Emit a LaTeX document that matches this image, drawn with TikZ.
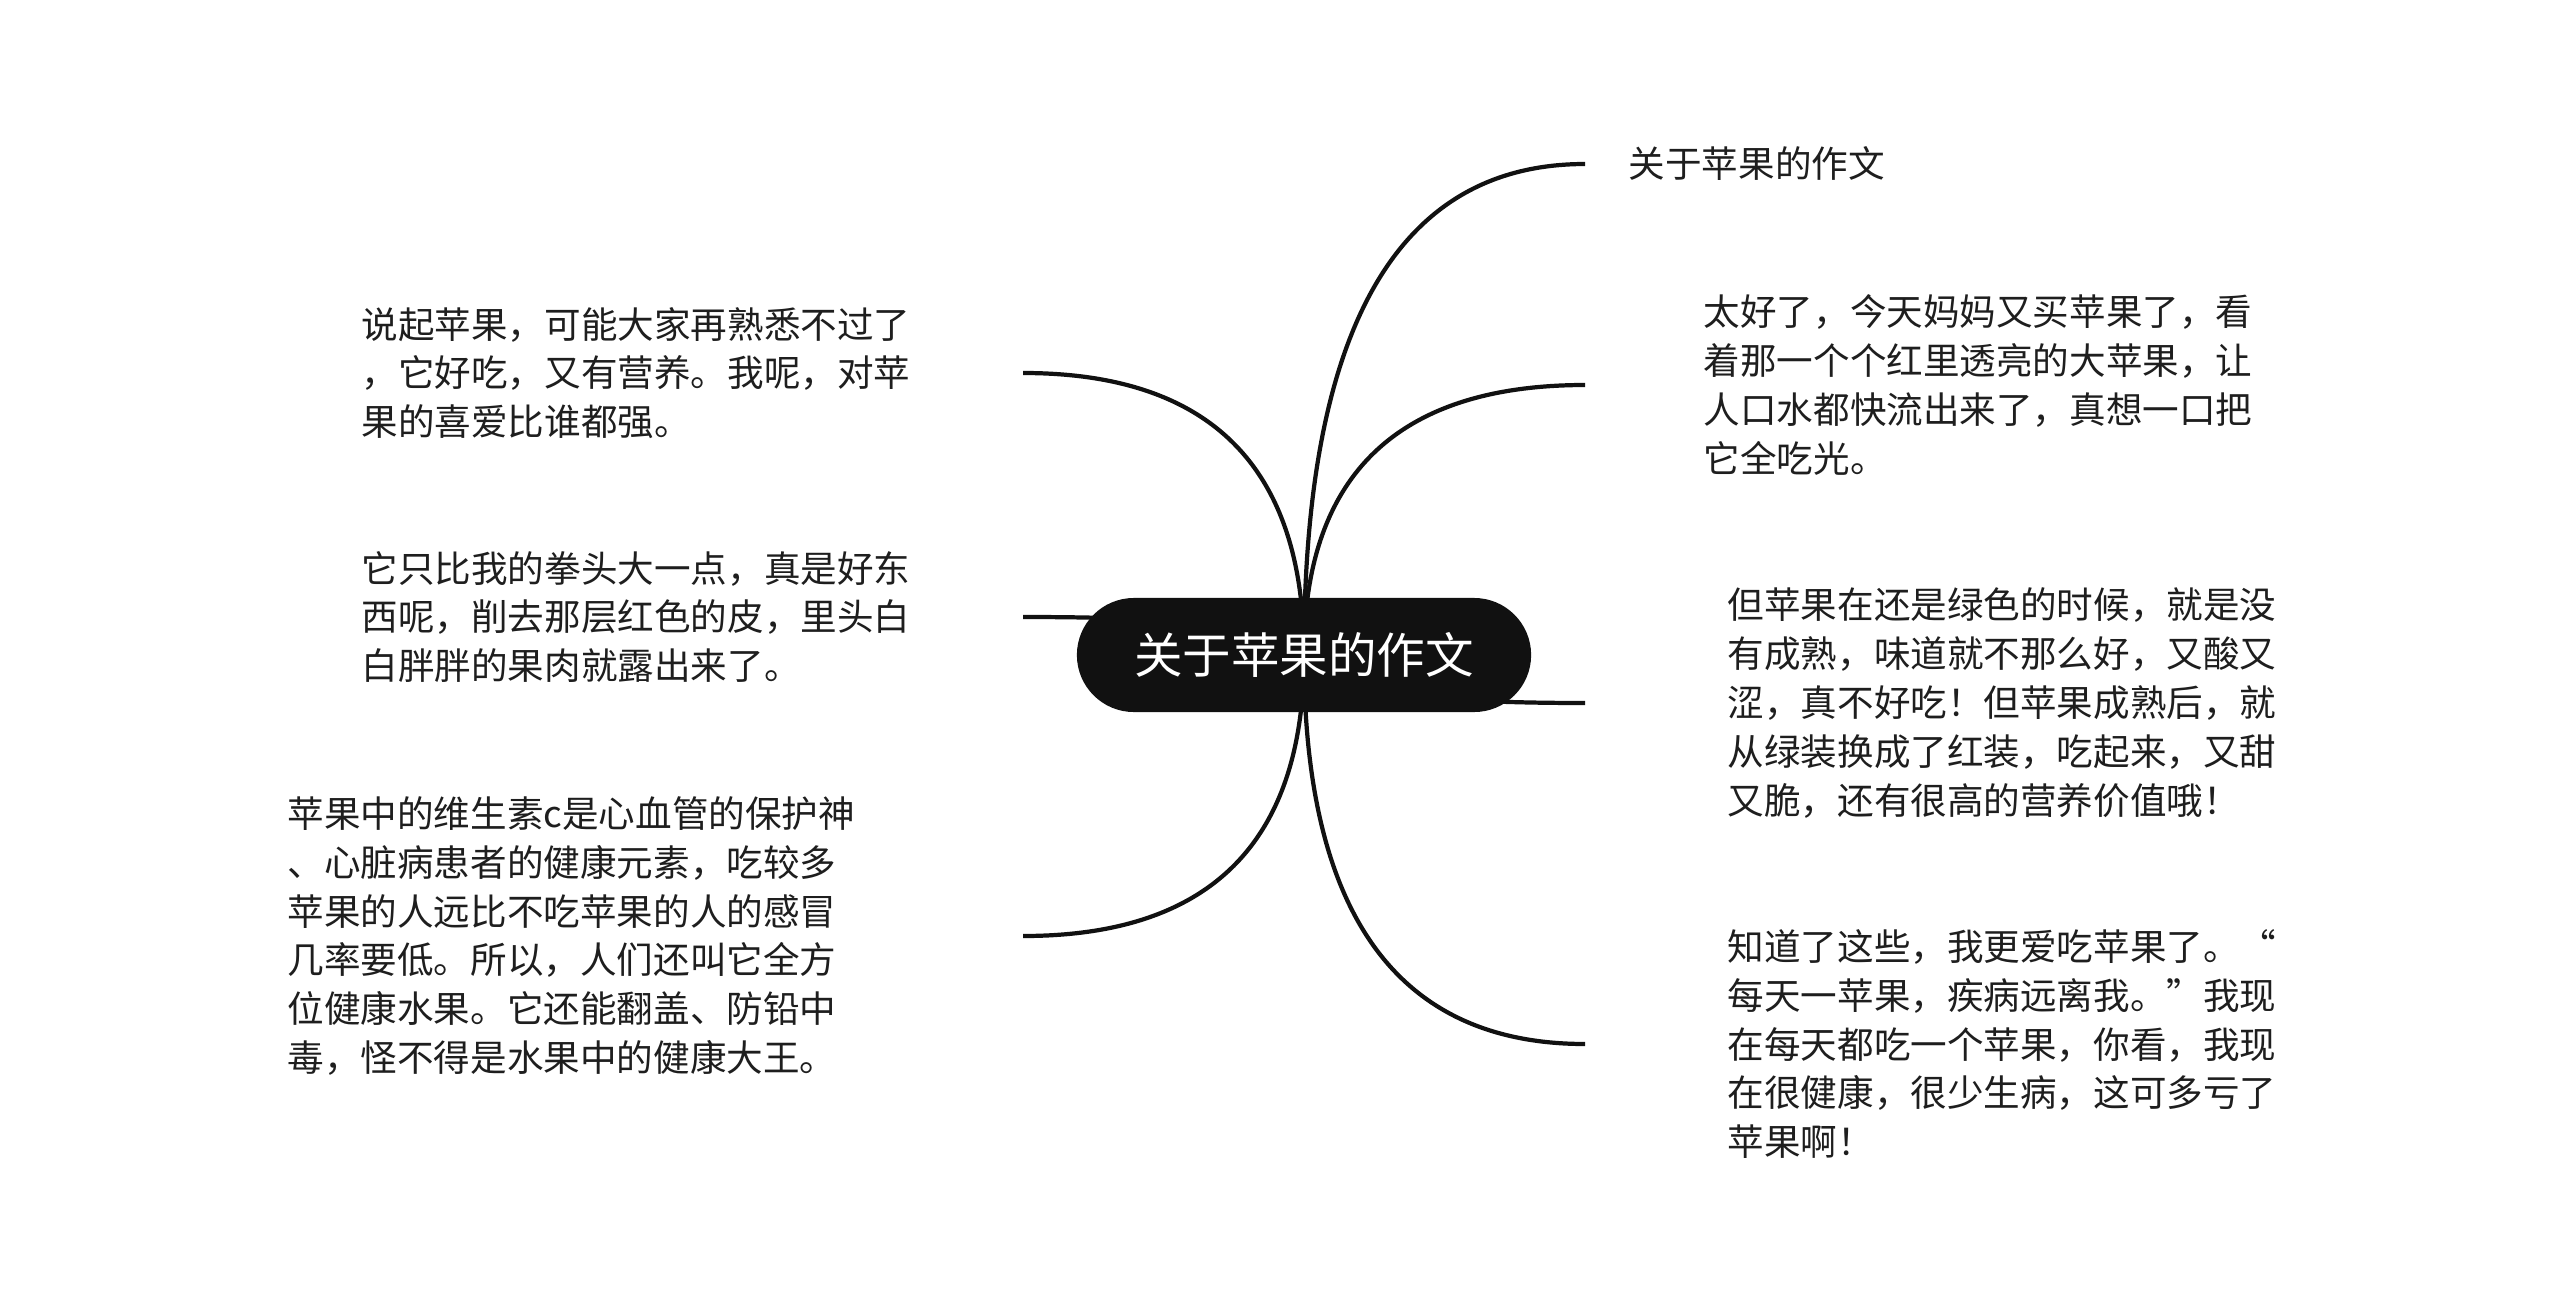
\documentclass[tikz,border=0pt]{standalone}
\usepackage{fontspec}
\setmainfont{Noto Sans CJK SC}
\usetikzlibrary{calc, backgrounds}
\definecolor{ink}{HTML}{111111}
\definecolor{txt}{HTML}{1E1E1E}
\tikzset{
  topic/.style={anchor=west, align=left, inner sep=0pt, text=txt,
    font=\fontsize{10.4pt}{13.9pt}\selectfont},
  root/.style={fill=ink, text=white, rounded corners=0.57cm,
    minimum width=4.54cm, minimum height=1.14cm,
    font=\fontsize{13.8pt}{16pt}\selectfont},
  branch/.style={draw=ink, line width=1.2pt}
}
\newcommand\openq{\makebox[1em][r]{“}}
\newcommand\closeq{\makebox[1em][l]{”}}

\begin{document}
\begin{tikzpicture}[x=0.01cm, y=-0.01cm]
\useasboundingbox (0,0) rectangle (2560,1309);

\node[root] (c) at (1304,655) {关于苹果的作文};

% free ends of the branches
\coordinate (l1) at (1023,373);
\coordinate (l2) at (1023,617);
\coordinate (l3) at (1023,936);
\coordinate (r1) at (1585,164);
\coordinate (r2) at (1585,385);
\coordinate (r3) at (1585,703);
\coordinate (r4) at (1585,1044);

\begin{scope}[on background layer]
\foreach \e in {l1,l2,l3,r1,r2,r3,r4}
  \draw[branch] (c.center) .. controls ($(c.center)!2/3!(c.center |- \e)$)
    and ($(\e)!2/3!(c.center |- \e)$) .. (\e);
\end{scope}

% left topics
\node[topic] (tl1) at (361,373) {说起苹果，可能大家再熟悉不过了\\，它好吃，又有营养。我呢，对苹\\果的喜爱比谁都强。};
\node[topic] (tl2) at (361,617) {它只比我的拳头大一点，真是好东\\西呢，削去那层红色的皮，里头白\\白胖胖的果肉就露出来了。};
\node[topic] (tl3) at (287,936) {苹果中的维生素c是心血管的保护神\\、心脏病患者的健康元素，吃较多\\苹果的人远比不吃苹果的人的感冒\\几率要低。所以，人们还叫它全方\\位健康水果。它还能翻盖、防铅中\\毒，怪不得是水果中的健康大王。};

% right topics
\node[topic] (tr1) at (1628,164) {关于苹果的作文};
\node[topic] (tr2) at (1703,385) {太好了，今天妈妈又买苹果了，看\\着那一个个红里透亮的大苹果，让\\人口水都快流出来了，真想一口把\\它全吃光。};
\node[topic] (tr3) at (1727,703) {但苹果在还是绿色的时候，就是没\\有成熟，味道就不那么好，又酸又\\涩，真不好吃！但苹果成熟后，就\\从绿装换成了红装，吃起来，又甜\\又脆，还有很高的营养价值哦！};
\node[topic] (tr4) at (1727,1044) {知道了这些，我更爱吃苹果了。\openq\\每天一苹果，疾病远离我。\closeq 我现\\在每天都吃一个苹果，你看，我现\\在很健康，很少生病，这可多亏了\\苹果啊！};
\end{tikzpicture}
\end{document}
